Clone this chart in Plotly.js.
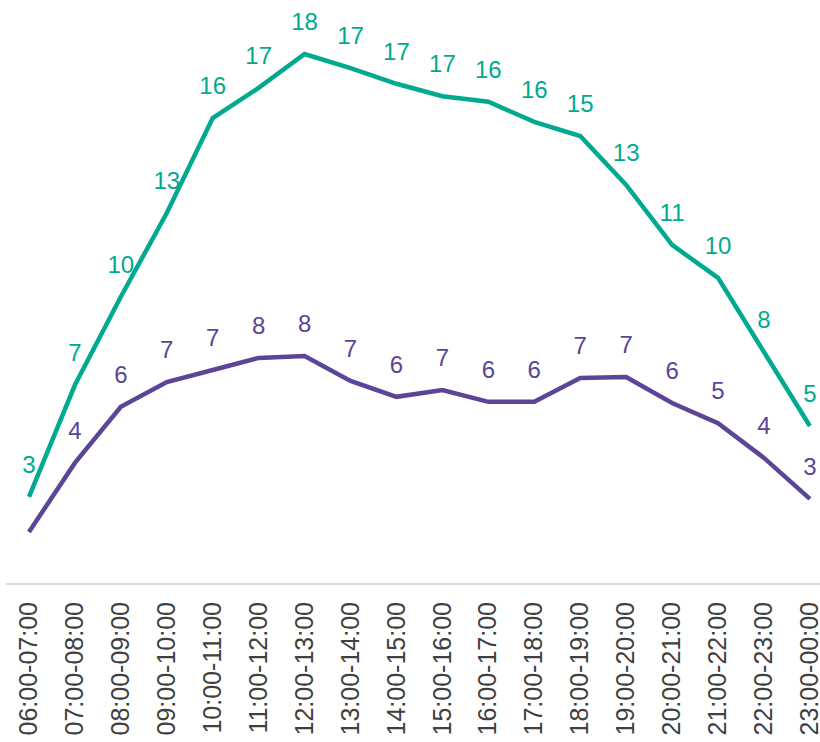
<!DOCTYPE html>
<html>
<head>
<meta charset="utf-8">
<script src="https://cdn.plot.ly/plotly-3.0.1.min.js"></script>
<style>
  html, body { margin: 0; padding: 0; background: #ffffff; }
  #chart { width: 820px; height: 742px; }
</style>
</head>
<body>
<div id="chart"></div>
<script>
// Categories (hour slots)
const categories = [
  "06:00-07:00", "07:00-08:00", "08:00-09:00", "09:00-10:00", "10:00-11:00",
  "11:00-12:00", "12:00-13:00", "13:00-14:00", "14:00-15:00", "15:00-16:00",
  "16:00-17:00", "17:00-18:00", "18:00-19:00", "19:00-20:00", "20:00-21:00",
  "21:00-22:00", "22:00-23:00", "23:00-00:00"
];

// Series values
const tealValues = [2.92, 6.71, 9.70, 12.54, 15.76, 16.78, 17.93, 17.45, 16.92, 16.50,
                    16.31, 15.63, 15.15, 13.49, 11.46, 10.34, 7.83, 5.32];
const purpleValues = [1.73, 4.07, 5.97, 6.81, 7.22, 7.63, 7.69, 6.85, 6.31, 6.54,
                      6.14, 6.14, 6.95, 6.98, 6.10, 5.42, 4.24, 2.85];

// Data labels as shown
const tealLabels = ["3", "7", "10", "13", "16", "17", "18", "17", "17", "17",
                    "16", "16", "15", "13", "11", "10", "8", "5"];
const purpleLabels = ["", "4", "6", "7", "7", "8", "8", "7", "6", "7",
                      "6", "6", "7", "7", "6", "5", "4", "3"];

const TEAL = "#00a990";
const PURPLE = "#5c4497";

function series(name, values, labels, color) {
  return {
    type: "scatter",
    mode: "lines+markers+text",
    name: name,
    x: categories,
    y: values,
    text: labels,
    textposition: "top center",
    textfont: { family: "Liberation Sans, Arial, sans-serif", size: 24, color: color },
    line: { color: color, width: 4.5 },
    marker: { size: 27, color: "rgba(0,0,0,0)", line: { width: 0 } },
    hoverinfo: "x+y",
    cliponaxis: false
  };
}

const data = [
  series("Series 1", tealValues, tealLabels, TEAL),
  series("Series 2", purpleValues, purpleLabels, PURPLE)
];

const layout = {
  width: 820,
  height: 742,
  margin: { l: 6, r: 0, t: 0, b: 159, pad: 0 },
  paper_bgcolor: "#ffffff",
  plot_bgcolor: "#ffffff",
  showlegend: false,
  font: { family: "Liberation Sans, Arial, sans-serif", color: "#404040" },
  xaxis: {
    type: "category",
    range: [-0.5, 17.22],
    showgrid: false,
    zeroline: false,
    showline: true,
    linecolor: "#d9d9d9",
    linewidth: 2,
    ticks: "",
    tickangle: -90,
    ticklabelstandoff: 7,
    tickfont: { family: "Liberation Sans, Arial, sans-serif", size: 25, color: "#404040" },
    fixedrange: true
  },
  yaxis: {
    range: [0, 19.76],
    showgrid: false,
    zeroline: false,
    showline: false,
    showticklabels: false,
    ticks: "",
    fixedrange: true
  }
};

Plotly.newPlot("chart", data, layout, { displayModeBar: false, staticPlot: true });
</script>
</body>
</html>
